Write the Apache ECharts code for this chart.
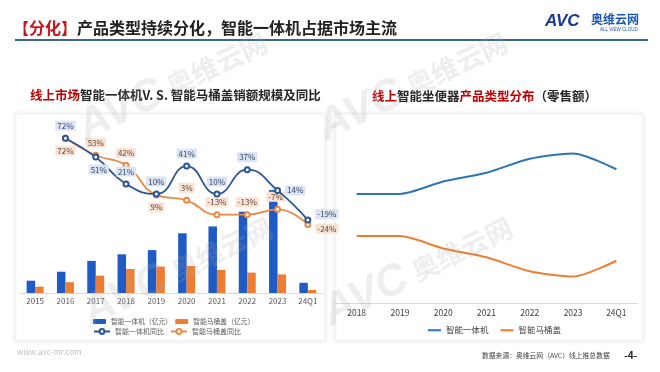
<!DOCTYPE html>
<html><head><meta charset="utf-8">
<script src="https://cdn.jsdelivr.net/npm/echarts@6/dist/echarts.min.js"></script>
<style>html,body{margin:0;padding:0;background:#fff}#c{width:660px;height:372px}</style>
</head><body><div id="c"></div>
<script>
// ---- data ----
const years = ['2015','2016','2017','2018','2019','2020','2021','2022','2023','24Q1'];
const aioSales = [4.1, 7.1, 10.7, 12.9, 14.3, 19.9, 22.2, 27.1, 34.3, 3.4];
const seatSales = [2.1, 3.6, 5.8, 8.0, 8.8, 9.0, 7.7, 6.8, 6.2, 1.0];
const aioYoY = [null, 72, 51, 21, 10, 41, 10, 37, 14, -19];
const seatYoY = [null, 72, 53, 42, 9, 3, -13, -13, -7, -24];
const shareYears = ['2018','2019','2020','2021','2022','2023','24Q1'];
const aioShare = [62, 62, 69, 74, 82, 85, 76];
const seatShare = [38, 38, 31, 26, 18, 15, 24];

// label placement (style only)
const aioLabelPos = [null,'top','bottom','top','top','top','top','top','right','right'];
const seatLabelPos = [null,'bottom','top','top','bottom','top','top','top','top','right'];
const aioLabelOff = [null,[0,0],[3,0],[0,0],[0,0],[0,0],[0,0],[0,0],[0,0],[0,-6]];
const seatLabelOff = [null,[0,0],[0,0],[0,0],[0,0],[0,0],[0,0],[0,0],[-2,0],[0,4]];

const FONT = '"Noto Sans CJK SC", "Noto Sans", sans-serif';
const BLUE_BAR = '#1f5bc4', ORANGE = '#ed7d31', BLUE_LINE = '#2c5597', ORANGE_LINE = '#ec8a45';
const BLUE2 = '#2e75b6';

function lineData(vals, pos, off) {
  return vals.map((v, i) => v == null ? '-' : {value: v, label: {position: pos[i], offset: off[i]}});
}

const chart = echarts.init(document.getElementById('c'), null, {renderer: 'canvas'});

function wm(x, y) {
  return {
    type: 'text', x: x, y: y, rotation: 0.45, z: 50, silent: true,
    style: {
      text: '{a|AVC}{b|奥维云网}', verticalAlign: 'bottom',
      rich: {
        a: {fontSize: 44, fontWeight: 'bold', fontStyle: 'italic', fontFamily: 'Arial', fill: 'rgba(170,170,170,0.2)', padding: [0, 8, 0, 0]},
        b: {fontSize: 27, fontWeight: 'bold', fontFamily: FONT, fill: 'rgba(170,170,170,0.2)'}
      }
    }
  };
}

const option = {
  backgroundColor: '#fff',
  textStyle: {fontFamily: FONT},
  animation: false,
  graphic: [
    {type: 'rect', z: -10, shape: {x: 15, y: 114, width: 310, height: 227},
      style: {fill: '#fff', stroke: '#eeeeee', lineWidth: 1, shadowBlur: 5, shadowColor: 'rgba(0,0,0,0.08)'}},
    {type: 'rect', z: -10, shape: {x: 335, y: 114, width: 308, height: 227},
      style: {fill: '#fff', stroke: '#eeeeee', lineWidth: 1, shadowBlur: 5, shadowColor: 'rgba(0,0,0,0.08)'}},
    {type: 'text', x: 13, y: 28, style: {
      text: '{r|【分化】}{k|产品类型持续分化，智能一体机占据市场主流}', verticalAlign: 'middle',
      rich: {
        r: {fontSize: 16, fontWeight: 'bold', fontFamily: FONT, fill: '#c8161d'},
        k: {fontSize: 16, fontWeight: 'bold', fontFamily: FONT, fill: '#222'}
      }}},
    {type: 'line', shape: {x1: 15, y1: 40, x2: 648, y2: 40}, style: {stroke: '#3a6896', lineWidth: 2}},
    {type: 'text', x: 545, y: 21, style: {text: 'AVC', verticalAlign: 'middle', fontSize: 17, fontWeight: 'bold', fontStyle: 'italic', fontFamily: 'Arial', fill: '#1a3c8f'}},
    {type: 'text', x: 591, y: 19, style: {text: '奥维云网', verticalAlign: 'middle', fontSize: 12, fontWeight: 'bold', fontFamily: FONT, fill: '#1f57b5'}},
    {type: 'text', x: 600, y: 30, style: {text: 'ALL VIEW CLOUD', verticalAlign: 'middle', fontSize: 4.5, fontFamily: 'Arial', fill: '#1f57b5'}},
    {type: 'text', x: 30, y: 95.5, style: {
      text: '{r|线上市场}{k|智能一体机V. S. 智能马桶盖销额规模及同比}', verticalAlign: 'middle',
      rich: {
        r: {fontSize: 12.5, fontWeight: 'bold', fontFamily: FONT, fill: '#c00000'},
        k: {fontSize: 12.5, fontWeight: 'bold', fontFamily: FONT, fill: '#262626'}
      }}},
    {type: 'text', x: 372, y: 96.5, style: {
      text: '{r|线上}{k|智能坐便器}{r|产品类型分布}{k|（零售额）}', verticalAlign: 'middle',
      rich: {
        r: {fontSize: 12.5, fontWeight: 'bold', fontFamily: FONT, fill: '#c00000'},
        k: {fontSize: 12.5, fontWeight: 'bold', fontFamily: FONT, fill: '#262626'}
      }}},
    {type: 'text', x: 17, y: 352, style: {text: 'www.avc-mr.com', verticalAlign: 'middle', fontSize: 8, fontFamily: FONT, fill: '#bfbfbf'}},
    {type: 'text', x: 482, y: 355, style: {text: '数据来源：奥维云网（AVC）线上推总数据', verticalAlign: 'middle', fontSize: 6.8, fontFamily: FONT, fill: '#404040'}},
    {type: 'text', x: 624, y: 355, style: {text: '-4-', verticalAlign: 'middle', fontSize: 10, fontWeight: 'bold', fontFamily: FONT, fill: '#262626'}},
    wm(95, 335), wm(335, 335), wm(90, 150), wm(330, 150)
  ],
  grid: [
    {left: 20, right: 337, top: 131, bottom: 79},
    {left: 335, right: 22, top: 127, bottom: 69}
  ],
  xAxis: [
    {type: 'category', gridIndex: 0, data: years, boundaryGap: true,
      axisLine: {lineStyle: {color: '#d9d9d9'}}, axisTick: {show: false},
      axisLabel: {fontSize: 8, color: '#595959', margin: 4, interval: 0}},
    {type: 'category', gridIndex: 1, data: shareYears, boundaryGap: true,
      axisLine: {lineStyle: {color: '#d9d9d9'}}, axisTick: {show: false},
      axisLabel: {fontSize: 8.5, color: '#404040', margin: 6, interval: 0}}
  ],
  yAxis: [
    {type: 'value', gridIndex: 0, min: 0, max: 54, show: false},
    {type: 'value', gridIndex: 0, min: -100, max: 80, show: false},
    {type: 'value', gridIndex: 1, min: 0, max: 100, show: false}
  ],
  legend: [
    {left: 93, top: 318, data: ['智能一体机（亿元）', '智能马桶盖（亿元）'], itemWidth: 13, itemHeight: 5, itemGap: 3,
      textStyle: {fontSize: 6.8, color: '#595959'}, padding: 0},
    {left: 93, top: 328, data: ['智能一体机同比', '智能马桶盖同比'], itemWidth: 16, itemHeight: 6, itemGap: 6,
      textStyle: {fontSize: 7, color: '#595959'}, padding: 0},
    {left: 428, top: 326, data: ['智能一体机', '智能马桶盖'], itemWidth: 13, itemHeight: 2, itemGap: 12, icon: 'rect',
      textStyle: {fontSize: 8.5, color: '#404040'}, padding: 0}
  ],
  series: [
    {name: '智能一体机（亿元）', type: 'bar', xAxisIndex: 0, yAxisIndex: 0, data: aioSales,
      barWidth: 8.5, barGap: '0%', itemStyle: {color: BLUE_BAR}},
    {name: '智能马桶盖（亿元）', type: 'bar', xAxisIndex: 0, yAxisIndex: 0, data: seatSales,
      barWidth: 8.5, barGap: '0%', itemStyle: {color: ORANGE}},
    {name: '智能一体机同比', type: 'line', xAxisIndex: 0, yAxisIndex: 1, z: 5,
      data: lineData(aioYoY, aioLabelPos, aioLabelOff), smooth: 0.5,
      symbol: 'emptyCircle', symbolSize: 5, itemStyle: {color: BLUE_LINE, borderWidth: 1},
      lineStyle: {color: BLUE_LINE, width: 1.8},
      label: {show: true, formatter: '{c}%', fontSize: 8, color: '#3b4a66', backgroundColor: '#dbe4f3', padding: [1, 2], distance: 4}},
    {name: '智能马桶盖同比', type: 'line', xAxisIndex: 0, yAxisIndex: 1, z: 4,
      data: lineData(seatYoY, seatLabelPos, seatLabelOff), smooth: 0.5,
      symbol: 'emptyCircle', symbolSize: 5, itemStyle: {color: ORANGE_LINE, borderWidth: 1},
      lineStyle: {color: ORANGE_LINE, width: 1.8},
      label: {show: true, formatter: '{c}%', fontSize: 8, color: '#5a4a40', backgroundColor: '#fbe3d3', padding: [1, 2], distance: 4}},
    {name: '智能一体机', type: 'line', xAxisIndex: 1, yAxisIndex: 2, data: aioShare, smooth: 0.25,
      symbol: 'none', itemStyle: {color: BLUE2}, lineStyle: {color: BLUE2, width: 2}},
    {name: '智能马桶盖', type: 'line', xAxisIndex: 1, yAxisIndex: 2, data: seatShare, smooth: 0.25,
      symbol: 'none', itemStyle: {color: ORANGE}, lineStyle: {color: ORANGE, width: 2}}
  ]
};
chart.setOption(option);
</script>
</body></html>
